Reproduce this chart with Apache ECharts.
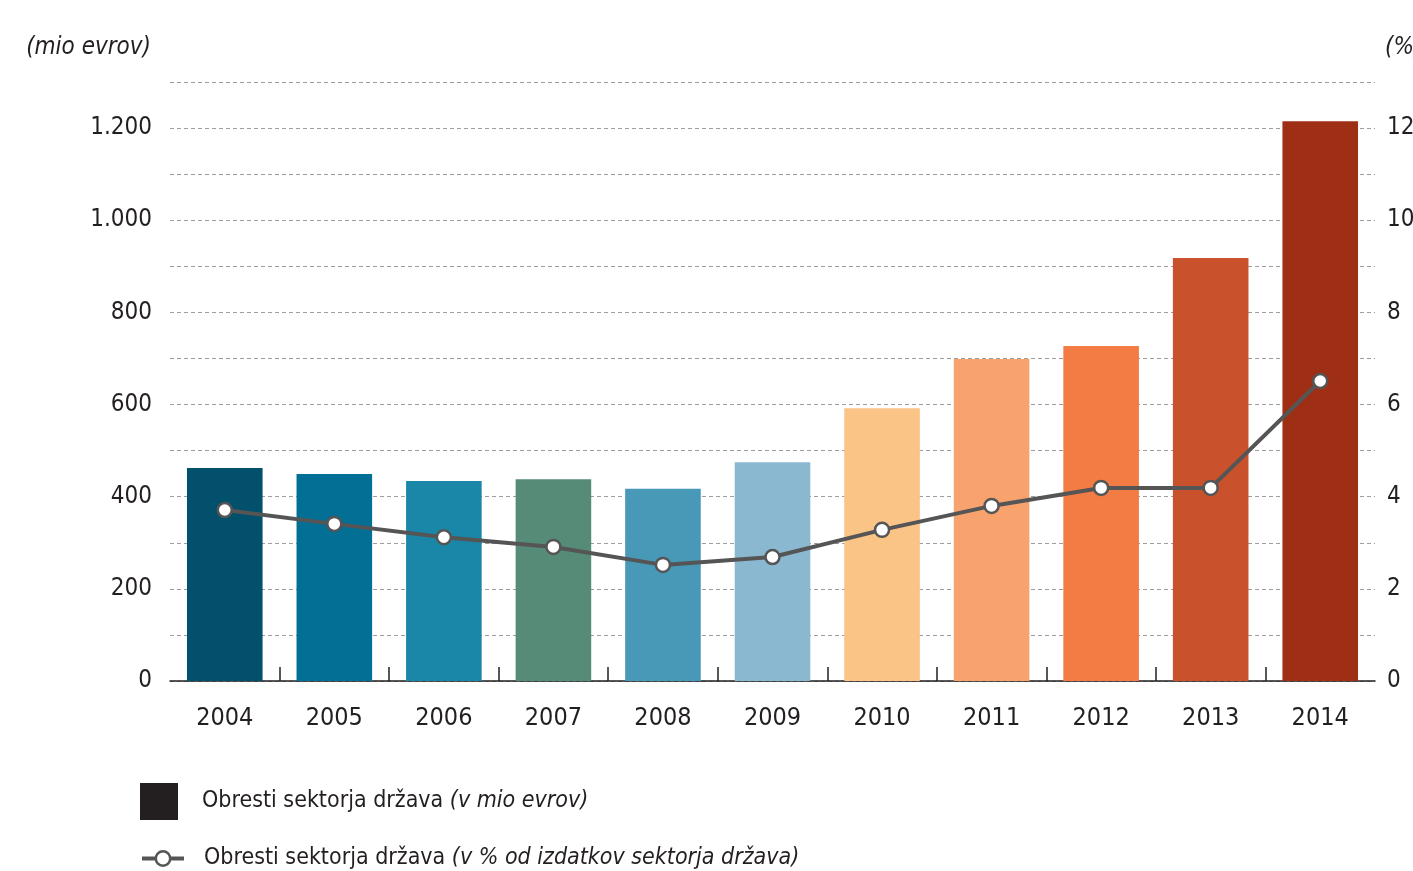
<!DOCTYPE html>
<html>
<head>
<meta charset="utf-8">
<script src="https://cdn.jsdelivr.net/npm/echarts@6/dist/echarts.min.js"></script>
<style>
html,body{margin:0;padding:0;background:#fff;}
#chart{width:1413px;height:871px;}
</style>
</head>
<body>
<div id="chart"></div>
<script>
var years = ['2004','2005','2006','2007','2008','2009','2010','2011','2012','2013','2014'];
var interestMio = [462, 449, 434, 438, 417, 475, 592, 699, 727, 918, 1215];
var interestPct = [3.71, 3.41, 3.12, 2.91, 2.52, 2.69, 3.28, 3.80, 4.19, 4.19, 6.51];
var barColors = ['#02506b','#036f94','#1b87a8','#568b78','#4899b8','#8ab8d0','#fbc487','#f8a26e','#f37c45','#c9522c','#9f2f14'];
var seriesNames = ['Obresti sektorja država (v mio evrov)', 'Obresti sektorja država (v % od izdatkov sektorja država)'];

var FONT = '"Liberation Sans Narrow", "DejaVu Sans Condensed", sans-serif';
var TXT = '#231f20';

// category boundaries (between neighbouring years) for the axis ticks
var boundaries = years.map(function (y, i) { return i; }).slice(1);

function legendFmt(name) {
  var i = name.indexOf('(');
  return '{r|' + name.slice(0, i) + '}{i|' + name.slice(i) + '}';
}
function legendText(padLeft) {
  return {
    fontFamily: FONT, fontSize: 23, color: TXT,
    rich: {
      r: {fontFamily: FONT, fontSize: 23, color: TXT, padding: [0, 0, 0, padLeft]},
      i: {fontFamily: FONT, fontSize: 23, color: TXT, fontStyle: 'italic'}
    }
  };
}

var chart = echarts.init(document.getElementById('chart'), null, {renderer:'canvas'});
chart.setOption({
  animation: false,
  backgroundColor: '#fff',
  textStyle: {fontFamily: FONT},
  grid: {left: 170, right: 38, top: 82, bottom: 190, containLabel: false, outerBoundsMode: 'none'},
  legend: [
    {
      left: 140, top: 783, padding: 0,
      itemWidth: 38, itemHeight: 37,
      selectedMode: false,
      data: [{name: seriesNames[0], icon: 'rect', itemStyle: {color: '#231f20'}}],
      formatter: legendFmt,
      textStyle: legendText(19)
    },
    {
      left: 140, top: 847, padding: 0,
      itemWidth: 42, itemHeight: 18,
      selectedMode: false,
      data: [{
        name: seriesNames[1],
        lineStyle: {color: '#555555', width: 4},
        itemStyle: {color: '#ffffff', borderColor: '#555555', borderWidth: 2.5}
      }],
      formatter: legendFmt,
      textStyle: legendText(15)
    }
  ],
  xAxis: [
    {
      type: 'category',
      data: years,
      boundaryGap: true,
      axisLine: {lineStyle: {color: '#231f20', width: 1.5}},
      axisTick: {show: false},
      axisLabel: {fontFamily: FONT, fontSize: 25, color: TXT, margin: 25}
    },
    {
      type: 'value',
      position: 'bottom',
      min: 0, max: years.length,
      axisLine: {show: false},
      axisLabel: {show: false},
      splitLine: {show: false},
      axisTick: {
        show: true, inside: true, length: 14,
        customValues: boundaries,
        lineStyle: {color: '#231f20', width: 1.5}
      }
    }
  ],
  yAxis: [
    {
      type: 'value',
      min: 0, max: 1300, interval: 100,
      name: '(mio evrov)',
      nameLocation: 'end',
      nameGap: 22,
      nameTextStyle: {fontFamily: FONT, fontSize: 24, fontStyle: 'italic', color: TXT, align: 'right', padding: [0, 19, 0, 0]},
      axisLine: {show: false},
      axisTick: {show: false},
      axisLabel: {
        fontFamily: FONT, fontSize: 24, color: TXT, margin: 18,
        formatter: function (v) {
          if (v % 200 !== 0) return '';
          var s = String(v);
          return s.length > 3 ? s.slice(0, s.length - 3) + '.' + s.slice(s.length - 3) : s;
        }
      },
      splitLine: {show: true, lineStyle: {color: '#9d9d9d', type: [4, 3], width: 1}}
    },
    {
      type: 'value',
      min: 0, max: 13, interval: 1,
      position: 'right',
      name: '(%)',
      nameLocation: 'end',
      nameGap: 22,
      nameTextStyle: {fontFamily: FONT, fontSize: 24, fontStyle: 'italic', color: TXT, align: 'left', padding: [0, 0, 0, 10]},
      axisLine: {show: false},
      axisTick: {show: false},
      axisLabel: {
        fontFamily: FONT, fontSize: 24, color: TXT, margin: 12,
        formatter: function (v) { return v % 2 === 0 ? String(v) : ''; }
      },
      splitLine: {show: false}
    }
  ],
  series: [
    {
      name: seriesNames[0],
      type: 'bar',
      xAxisIndex: 0,
      yAxisIndex: 0,
      barCategoryGap: '31%',
      data: interestMio.map(function (v, i) { return {value: v, itemStyle: {color: barColors[i]}}; }),
      itemStyle: {color: '#231f20'}
    },
    {
      name: seriesNames[1],
      type: 'line',
      xAxisIndex: 0,
      yAxisIndex: 1,
      data: interestPct,
      z: 5,
      symbol: 'circle',
      symbolSize: 14,
      showAllSymbol: true,
      lineStyle: {color: '#555555', width: 4},
      itemStyle: {color: '#ffffff', borderColor: '#555555', borderWidth: 2.5}
    }
  ]
});
</script>
</body>
</html>
